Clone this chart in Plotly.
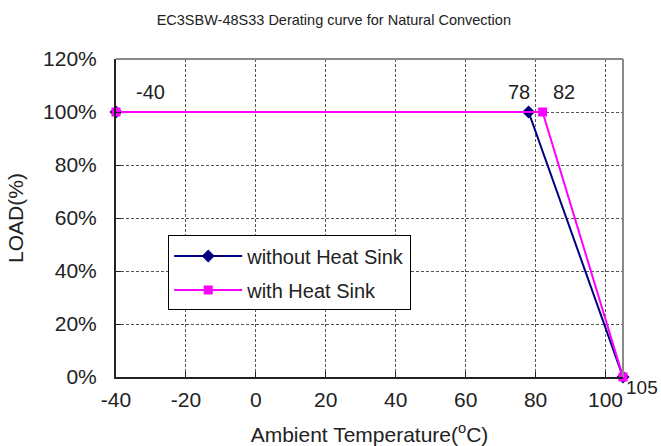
import plotly.graph_objects as go

# Data
temps_without = [-40, 78, 105]
load_without = [1.0, 1.0, 0.0]
temps_with = [-40, 82, 105]
load_with = [1.0, 1.0, 0.0]
x_ticks = [-40, -20, 0, 20, 40, 60, 80, 100]
x_tick_text = ["-40", "-20", "0", "20", "40", "60", "80", "100"]
y_ticks = [0, 0.2, 0.4, 0.6, 0.8, 1.0, 1.2]
y_tick_text = ["0%", "20%", "40%", "60%", "80%", "100%", "120%"]
point_labels = [(-40, 1.0, "-40"), (78, 1.0, "78"), (82, 1.0, "82"), (105, 0.0, "105")]

FONT = "Arial, Liberation Sans, sans-serif"
TXT = "#222"

fig = go.Figure()
fig.add_trace(go.Scatter(
    x=temps_without, y=load_without, mode="lines+markers", name="without Heat Sink",
    line=dict(color="#000080", width=2), marker=dict(symbol="diamond", size=10, color="#000080"),
    legendgroup="a", cliponaxis=False))
fig.add_trace(go.Scatter(
    x=temps_with, y=load_with, mode="lines+markers", name="with Heat Sink",
    line=dict(color="#FF00FF", width=2), marker=dict(symbol="square", size=9, color="#FF00FF"),
    legendgroup="b", cliponaxis=False))

shifts = {"-40": (34, 20), "78": (-10, 20), "82": (21, 20), "105": (19, -10)}
sizes = {"-40": 20, "78": 20, "82": 20, "105": 19}
for x, y, t in point_labels:
    dx, dy = shifts[t]
    fig.add_annotation(x=x, y=y, text=t, showarrow=False, xshift=dx, yshift=dy,
                       font=dict(family=FONT, size=sizes[t], color=TXT))

# top and right frame (grey)
fig.add_shape(type="line", xref="paper", yref="paper", x0=0, x1=1, y0=1, y1=1,
              line=dict(color="#8a8a8a", width=2))
fig.add_shape(type="line", xref="paper", yref="paper", x0=1, x1=1, y0=0, y1=1,
              line=dict(color="#8a8a8a", width=2))

fig.update_layout(
    width=661, height=446,
    margin=dict(l=116, r=38, t=59, b=69),
    paper_bgcolor="white", plot_bgcolor="white",
    font=dict(family=FONT, color=TXT),
    hovermode=False,
    title=dict(text="EC3SBW-48S33 Derating curve for Natural Convection",
               x=0.505, xanchor="center", y=0.955, yanchor="middle",
               font=dict(family=FONT, size=14.5, color=TXT)),
    legend=dict(x=0.103, xanchor="left", y=0.445, yanchor="top",
                bgcolor="white", bordercolor="#000", borderwidth=1,
                font=dict(family=FONT, size=20, color=TXT),
                itemwidth=68, tracegroupgap=5),
    showlegend=True,
)
fig.update_xaxes(range=[-40, 105], tickvals=x_ticks, ticktext=x_tick_text, showline=True, linecolor=TXT, linewidth=2,
                 ticks="inside", ticklen=5, tickcolor=TXT, automargin=False,
                 showgrid=True, gridcolor="#555", griddash="3px,2px", gridwidth=1,
                 zeroline=False, tickfont=dict(size=21, family=FONT, color=TXT),
                 ticklabelstandoff=3,
                 title=dict(text="Ambient Temperature(<sup>o</sup>C)", font=dict(size=21, family=FONT, color=TXT), standoff=20))
fig.update_yaxes(range=[0, 1.2], tickvals=y_ticks, ticktext=y_tick_text, showline=True, linecolor=TXT, linewidth=2,
                 ticks="inside", ticklen=5, tickcolor=TXT, automargin=False,
                 showgrid=True, gridcolor="#555", griddash="3px,2px", gridwidth=1,
                 zeroline=False, tickfont=dict(size=21, family=FONT, color=TXT),
                 ticklabelstandoff=13,
                 title=dict(text="LOAD(%)", font=dict(size=21, family=FONT, color=TXT), standoff=14))

fig.write_html("out.html", config={"displayModeBar": False, "staticPlot": True},
               post_script="document.body.style.margin='0';document.body.style.overflow='hidden';")
